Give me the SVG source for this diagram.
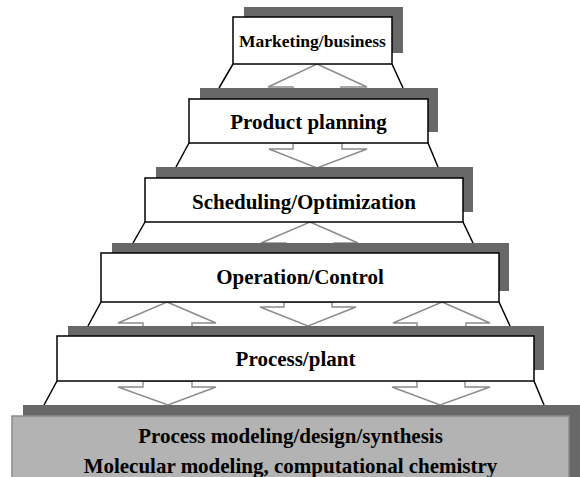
<svg xmlns="http://www.w3.org/2000/svg" width="580" height="477" viewBox="0 0 580 477">
  <style>
    .shadow { fill: #686868; }
    .box { fill: #ffffff; stroke: #000000; stroke-width: 1.5; }
    .base { fill: #b3b3b3; stroke: #8a8a8a; stroke-width: 1.5; }
    .side { stroke: #000000; stroke-width: 1.5; fill: none; }
    .arrow { fill: #ffffff; stroke: #8c8c8c; stroke-width: 1.4; stroke-linejoin: miter; }
    .label { font-family: "Liberation Serif", "Times New Roman", serif; font-weight: bold; fill: #000000; text-anchor: middle; }
  </style>
  <rect width="580" height="477" fill="#ffffff"/>

  <!-- sloped sides and hollow arrows between tiers -->
  <g id="connectors">
    <line class="side" x1="233" y1="64" x2="219" y2="88"/>
    <line class="side" x1="392" y1="64" x2="403" y2="88"/>
    <line class="side" x1="189" y1="143" x2="176" y2="167"/>
    <line class="side" x1="428" y1="143" x2="438" y2="167"/>
    <line class="side" x1="145" y1="222" x2="133" y2="243"/>
    <line class="side" x1="463" y1="222" x2="473" y2="243"/>
    <line class="side" x1="101" y1="302" x2="88" y2="326"/>
    <line class="side" x1="499" y1="302" x2="510" y2="326"/>
    <line class="side" x1="57" y1="381" x2="44" y2="405"/>
    <line class="side" x1="534" y1="381" x2="544" y2="405"/>

    <!-- Marketing/business <-> Product planning -->
    <polygon class="arrow" points="317,64 367,87 341,87 341,96 293,96 293,87 268,87"/>
    <!-- Product planning -> Scheduling/Optimization -->
    <polygon class="arrow" points="293,143 293,149 269,149 317,168 367,149 342,149 342,143"/>
    <!-- Scheduling/Optimization <-> Operation/Control -->
    <polygon class="arrow" points="310,222 358,243 334,243 334,250 286,250 286,243 261,243"/>
    <!-- Operation/Control <-> Process/plant -->
    <polygon class="arrow" points="167,302 216,323 192,323 192,332 143,332 143,323 118,323"/>
    <polygon class="arrow" points="284,302 284,307 260,307 308,326 356,307 332,307 332,302"/>
    <polygon class="arrow" points="442,302 490,323 466,323 466,332 417,332 417,323 393,323"/>
    <!-- Process/plant -> modeling base -->
    <polygon class="arrow" points="143,381 143,387 118,387 168,405 216,387 192,387 192,381"/>
    <polygon class="arrow" points="417,381 417,387 392,387 440,405 490,387 465,387 465,381"/>
  </g>

  <g id="marketing">
    <rect class="shadow" x="244" y="7" width="159" height="46"/>
    <rect class="box" x="233" y="17" width="159" height="47"/>
    <text class="label" x="312.5" y="47" font-size="17.5">Marketing/business</text>
  </g>

  <g id="product-planning">
    <rect class="shadow" x="200" y="88" width="238" height="44"/>
    <rect class="box" x="189" y="99" width="239" height="44"/>
    <text class="label" x="308.5" y="129" font-size="21">Product planning</text>
  </g>

  <g id="scheduling">
    <rect class="shadow" x="156" y="167" width="317" height="45"/>
    <rect class="box" x="145" y="178" width="318" height="44"/>
    <text class="label" x="304" y="209" font-size="21">Scheduling/Optimization</text>
  </g>

  <g id="operation">
    <rect class="shadow" x="112" y="243" width="397" height="48"/>
    <rect class="box" x="101" y="253" width="398" height="49"/>
    <text class="label" x="300" y="284" font-size="21">Operation/Control</text>
  </g>

  <g id="process-plant">
    <rect class="shadow" x="68" y="326" width="476" height="44"/>
    <rect class="box" x="57" y="336" width="477" height="45"/>
    <text class="label" x="295.5" y="366" font-size="21">Process/plant</text>
  </g>

  <g id="modeling-base">
    <rect class="shadow" x="23" y="405" width="560" height="80"/>
    <rect class="base" x="12" y="416" width="557" height="70"/>
    <text class="label" x="290.5" y="443" font-size="21">Process modeling/design/synthesis</text>
    <text class="label" x="290.5" y="473" font-size="21">Molecular modeling, computational chemistry</text>
  </g>
</svg>
